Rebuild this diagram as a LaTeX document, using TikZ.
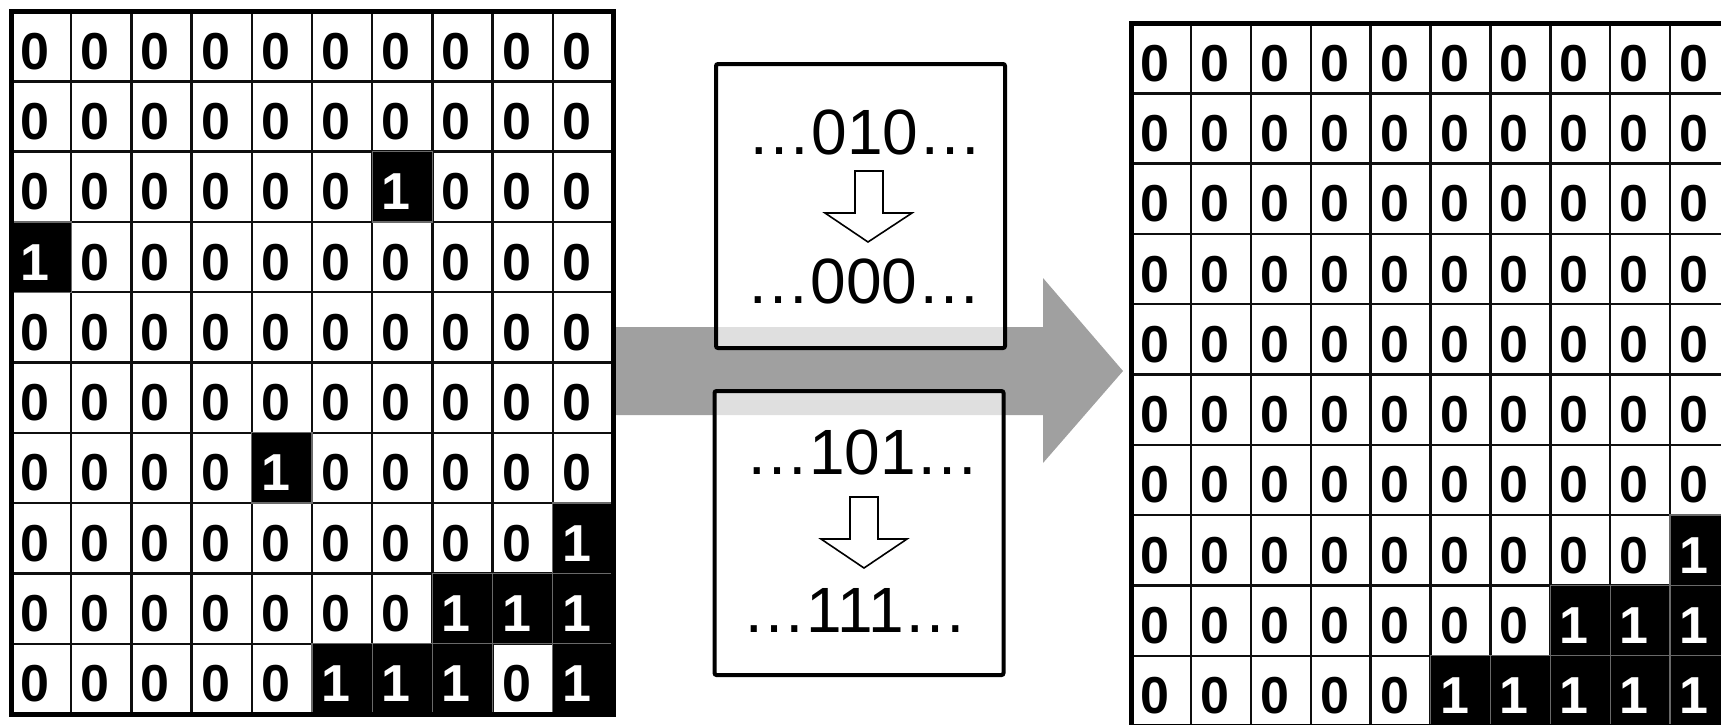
\documentclass[tikz,border=0pt]{standalone}
\usepackage{fontspec}
\setmainfont{Liberation Sans}
\definecolor{arrowgray}{RGB}{160,160,160}
\definecolor{celledge}{RGB}{15,15,15}
\definecolor{oneedge}{RGB}{105,105,105}
\begin{document}
\begin{tikzpicture}[x=1pt,y=-1pt,
  cellbase/.style={rectangle, anchor=north west, outer sep=0pt,
    minimum width=\cw pt, minimum height=70.3pt,
    inner xsep=9.5pt, inner ysep=0pt, text width=\cw pt-19pt, align=left,
    text height=46pt, text depth=0pt,
    font=\fontsize{52}{52}\selectfont\bfseries},
  cellv0/.style={cellbase, fill=white, draw=celledge, line width=2.4pt, text=black},
  cellv1/.style={cellbase, fill=black, draw=oneedge, line width=1.3pt, text=white},
  frame/.style={draw=black, line width=5pt},
  bigarrow/.style={fill=arrowgray},
  rulebox/.style={rectangle, outer sep=0pt, draw=black, line width=4pt,
    fill=white, fill opacity=0.67, rounded corners=2pt,
    minimum width=289pt, minimum height=284pt},
  ruletext/.style={anchor=base, inner sep=0pt, font=\fontsize{64}{64}\selectfont},
  downarrow/.style={draw=black, fill=white, line width=1.6pt, line join=miter}
]
\useasboundingbox (0,0) rectangle (1721,724);
\clip (0,0) rectangle (1721,724);

% ---------- big gray arrow ----------
\coordinate (arrowstart) at (616,371);
\coordinate (arrowtip) at (1123,371);
\fill[bigarrow] (arrowstart) ++(0,-44) -- (1043,327) -- (1043,278) -- (arrowtip)
  -- (1043,463) -- (1043,415) -- (616,415) -- cycle;

% ---------- left grid ----------
\def\cw{60.2}
\foreach \row [count=\r from 0] in {
  {0,0,0,0,0,0,0,0,0,0},
  {0,0,0,0,0,0,0,0,0,0},
  {0,0,0,0,0,0,1,0,0,0},
  {1,0,0,0,0,0,0,0,0,0},
  {0,0,0,0,0,0,0,0,0,0},
  {0,0,0,0,0,0,0,0,0,0},
  {0,0,0,0,1,0,0,0,0,0},
  {0,0,0,0,0,0,0,0,0,1},
  {0,0,0,0,0,0,0,1,1,1},
  {0,0,0,0,0,1,1,1,0,1}} {
  \foreach \v [count=\c from 0] in \row {
    \ifnum\v=0 \node[cellv\v] (L-\r-\c) at (11+\c*\cw, 11+\r*70.3) {\v};\fi
  }
}
\foreach \row [count=\r from 0] in {
  {0,0,0,0,0,0,0,0,0,0},
  {0,0,0,0,0,0,0,0,0,0},
  {0,0,0,0,0,0,1,0,0,0},
  {1,0,0,0,0,0,0,0,0,0},
  {0,0,0,0,0,0,0,0,0,0},
  {0,0,0,0,0,0,0,0,0,0},
  {0,0,0,0,1,0,0,0,0,0},
  {0,0,0,0,0,0,0,0,0,1},
  {0,0,0,0,0,0,0,1,1,1},
  {0,0,0,0,0,1,1,1,0,1}} {
  \foreach \v [count=\c from 0] in \row {
    \ifnum\v=1 \node[cellv\v] (L-\r-\c) at (11+\c*\cw, 11+\r*70.3) {\v};\fi
  }
}
\draw[frame] (11,11) rectangle (613,714);

% ---------- right grid ----------
\def\cw{59.9}
\foreach \row [count=\r from 0] in {
  {0,0,0,0,0,0,0,0,0,0},
  {0,0,0,0,0,0,0,0,0,0},
  {0,0,0,0,0,0,0,0,0,0},
  {0,0,0,0,0,0,0,0,0,0},
  {0,0,0,0,0,0,0,0,0,0},
  {0,0,0,0,0,0,0,0,0,0},
  {0,0,0,0,0,0,0,0,0,0},
  {0,0,0,0,0,0,0,0,0,1},
  {0,0,0,0,0,0,0,1,1,1},
  {0,0,0,0,0,1,1,1,1,1}} {
  \foreach \v [count=\c from 0] in \row {
    \ifnum\v=0 \node[cellv\v] (R-\r-\c) at (1131+\c*\cw, 23+\r*70.3) {\v};\fi
  }
}
\foreach \row [count=\r from 0] in {
  {0,0,0,0,0,0,0,0,0,0},
  {0,0,0,0,0,0,0,0,0,0},
  {0,0,0,0,0,0,0,0,0,0},
  {0,0,0,0,0,0,0,0,0,0},
  {0,0,0,0,0,0,0,0,0,0},
  {0,0,0,0,0,0,0,0,0,0},
  {0,0,0,0,0,0,0,0,0,0},
  {0,0,0,0,0,0,0,0,0,1},
  {0,0,0,0,0,0,0,1,1,1},
  {0,0,0,0,0,1,1,1,1,1}} {
  \foreach \v [count=\c from 0] in \row {
    \ifnum\v=1 \node[cellv\v] (R-\r-\c) at (1131+\c*\cw, 23+\r*70.3) {\v};\fi
  }
}
\draw[frame] (1131,23) rectangle (1730,726);

% ---------- rule boxes ----------
\node[rulebox] (upper) at (860.5,206) {};
\node[rulebox] (lower) at (859,533) {};

\node[ruletext] (u1) at (865,154) {…010…};
\node[ruletext] (u2) at (864,303) {…000…};
\node[ruletext] (l1) at (862.5,474) {…101…};
\node[ruletext] (l2) at (855,632) {…111…};

\draw[downarrow] (855,171) -- (883,171) -- (883,213) -- (912,213) -- (868,242)
  -- (825,213) -- (855,213) -- cycle;
\draw[downarrow] (850,497) -- (878,497) -- (878,539) -- (907,539) -- (864,568)
  -- (821,539) -- (850,539) -- cycle;
\end{tikzpicture}
\end{document}
